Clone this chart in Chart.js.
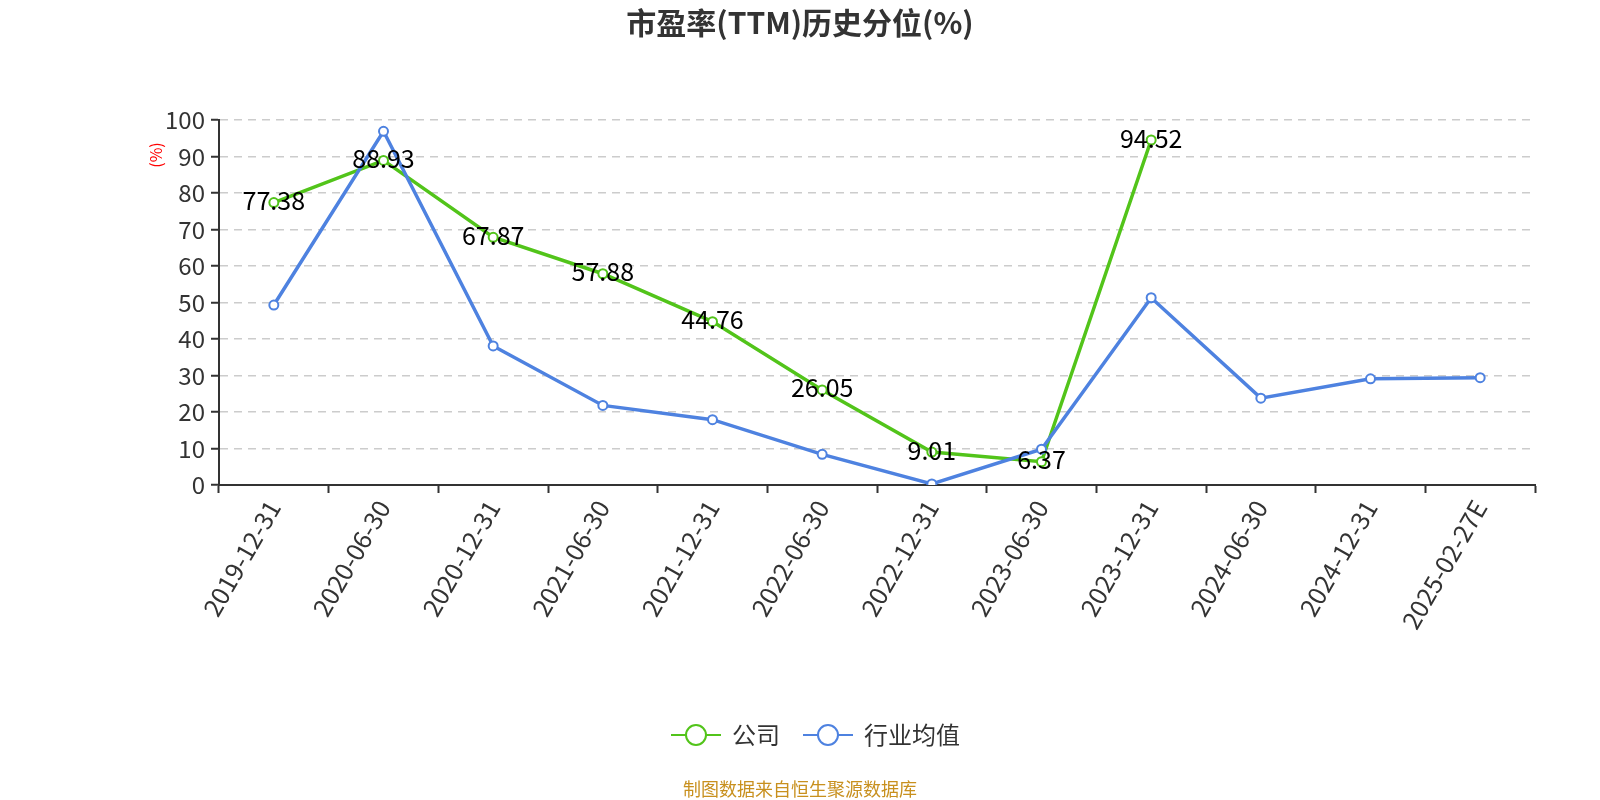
<!DOCTYPE html>
<html>
<head>
<meta charset="utf-8">
<script src="https://cdn.jsdelivr.net/npm/chart.js@4/dist/chart.umd.min.js"></script>
<style>
    html, body { margin: 0; padding: 0; background: #fff; }
    #wrap { width: 1600px; height: 800px; position: relative; }
</style>
</head>
<body>
<div id="wrap"><canvas id="peChart"></canvas></div>
<script>
// data
const categories = ['2019-12-31', '2020-06-30', '2020-12-31', '2021-06-30', '2021-12-31', '2022-06-30',
    '2022-12-31', '2023-06-30', '2023-12-31', '2024-06-30', '2024-12-31', '2025-02-27E'];
const companyValues = [77.38, 88.93, 67.87, 57.88, 44.76, 26.05, 9.01, 6.37, 94.52, null, null, null];
const industryValues = [49.3, 96.9, 38.1, 21.8, 17.9, 8.4, 0.3, 9.8, 51.3, 23.8, 29.1, 29.4];
const yTicks = [0, 10, 20, 30, 40, 50, 60, 70, 80, 90, 100];
const seriesNames = ['公司', '行业均值'];

const FONT = '"Noto Sans CJK SC", "Noto Sans", sans-serif';
const GREEN = '#52c41a';
const BLUE = '#4e82e0';

const extraText = {
    id: 'extraText',
    afterDatasetsDraw(chart) {
        const ctx = chart.ctx;
        // value labels on the company series
        const meta = chart.getDatasetMeta(0);
        ctx.save();
        ctx.font = '25px ' + FONT;
        ctx.fillStyle = '#000';
        ctx.textAlign = 'center';
        ctx.textBaseline = 'middle';
        meta.data.forEach((pt, i) => {
            const v = companyValues[i];
            if (v === null) return;
            ctx.fillText(v.toFixed(2), pt.x, pt.y - 2);
        });
        ctx.restore();
    },
    afterDraw(chart) {
        const ctx = chart.ctx;
        ctx.save();
        ctx.textAlign = 'center';
        ctx.textBaseline = 'middle';
        ctx.fillStyle = '#333';
        ctx.font = 'bold 30px ' + FONT;
        ctx.fillText('市盈率(TTM)历史分位(%)', 800, 23);

        ctx.fillStyle = '#c8901e';
        ctx.font = '18px ' + FONT;
        ctx.fillText('制图数据来自恒生聚源数据库', 800, 789);

        // legend: line with hollow circle, then name
        const items = [
            { x: 671, color: GREEN, name: seriesNames[0] },
            { x: 803, color: BLUE, name: seriesNames[1] }
        ];
        const ly = 735;
        items.forEach(it => {
            ctx.strokeStyle = it.color;
            ctx.lineWidth = 2;
            ctx.beginPath(); ctx.moveTo(it.x, ly); ctx.lineTo(it.x + 50, ly); ctx.stroke();
            ctx.beginPath(); ctx.arc(it.x + 25, ly, 10, 0, Math.PI * 2);
            ctx.fillStyle = '#fff'; ctx.fill(); ctx.stroke();
            ctx.fillStyle = '#333';
            ctx.font = '24px ' + FONT;
            ctx.textAlign = 'left';
            ctx.fillText(it.name, it.x + 61, ly);
        });

        ctx.textAlign = 'center';
        ctx.translate(156, 155);
        ctx.rotate(-Math.PI / 2);
        ctx.fillStyle = '#ff0000';
        ctx.font = '16px ' + FONT;
        ctx.fillText('(%)', 0, 0);
        ctx.restore();
    }
};

new Chart(document.getElementById('peChart'), {
    type: 'line',
    data: {
        labels: categories,
        datasets: [{
            label: seriesNames[0],
            data: companyValues,
            borderColor: GREEN,
            backgroundColor: '#fff',
            borderWidth: 3.5,
            pointRadius: 4.5,
            pointBorderWidth: 2,
            pointBackgroundColor: '#fff',
            pointBorderColor: GREEN,
            spanGaps: false,
            order: 1
        }, {
            label: seriesNames[1],
            data: industryValues,
            borderColor: BLUE,
            backgroundColor: '#fff',
            borderWidth: 3.5,
            pointRadius: 4.5,
            pointBorderWidth: 2,
            pointBackgroundColor: '#fff',
            pointBorderColor: BLUE,
            order: 0
        }]
    },
    options: {
        responsive: true,
        maintainAspectRatio: false,
        animation: false,
        layout: { padding: { left: 0, right: 65, top: 120, bottom: 97 } },
        scales: {
            x: {
                offset: true,
                grid: {
                    offset: true,
                    drawOnChartArea: false,
                    tickLength: 8,
                    tickColor: '#333',
                    tickWidth: 2
                },
                border: { color: '#333', width: 2 },
                ticks: {
                    color: '#333',
                    font: { family: FONT, size: 25 },
                    maxRotation: 60,
                    minRotation: 60,
                    autoSkip: false,
                    padding: 2
                },
                afterFit(scale) { scale.height = 218; }
            },
            y: {
                min: 0,
                max: 100,
                afterBuildTicks(scale) { scale.ticks = yTicks.map(v => ({ value: v })); },
                grid: {
                    color: '#cccccc',
                    lineWidth: 1.5,
                    tickBorderDash: [],
                    tickColor: '#333',
                    tickWidth: 2,
                    tickLength: 8
                },
                border: { color: '#333', width: 2, dash: [8, 6] },
                ticks: {
                    color: '#333',
                    font: { family: FONT, size: 24 },
                    padding: 6
                },
                afterFit(scale) { scale.width = 219; }
            }
        },
        plugins: {
            title: { display: false },
            tooltip: { enabled: false },
            legend: { display: false }
        }
    },
    plugins: [extraText]
});
</script>
</body>
</html>
